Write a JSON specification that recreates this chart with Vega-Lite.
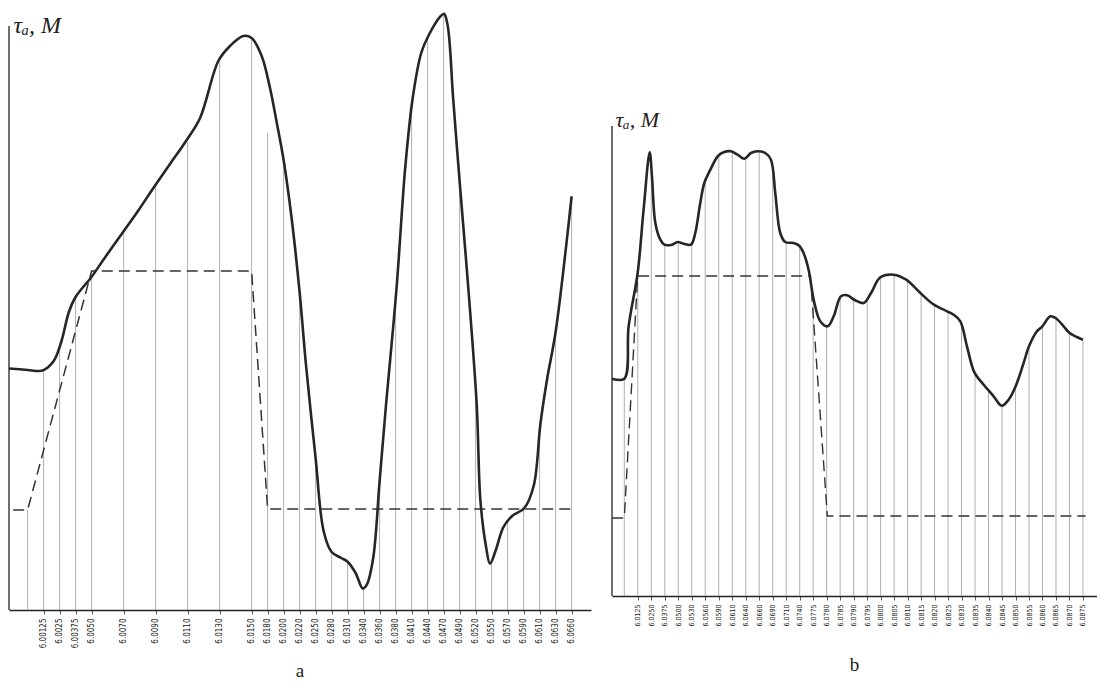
{
  "$schema": "https://vega.github.io/schema/vega-lite/v6.json",
  "padding": {"left": 3, "top": 8, "right": 0, "bottom": 0},
  "background": "#ffffff",
  "spacing": 15,
  "config": {
    "view": {"stroke": null},
    "axis": {"grid": false, "labelOverlap": false, "labelSeparation": 0}
  },
  "resolve": {"scale": {"x": "independent", "y": "independent"}},
  "datasets": {
    "curveA": [
      {"u": -1.16, "v": 241.5}, {"u": 0, "v": 240}, {"u": 0.67, "v": 239}, {"u": 0.96, "v": 239.6},
      {"u": 1.63, "v": 249}, {"u": 2.1, "v": 268}, {"u": 2.58, "v": 298}, {"u": 2.96, "v": 312},
      {"u": 3.42, "v": 322}, {"u": 3.9, "v": 331}, {"u": 4.9, "v": 354}, {"u": 5.88, "v": 376},
      {"u": 6.9, "v": 399}, {"u": 7.86, "v": 422}, {"u": 8.9, "v": 446}, {"u": 9.9, "v": 469},
      {"u": 10.78, "v": 492}, {"u": 11.92, "v": 549}, {"u": 12.65, "v": 564}, {"u": 13.48, "v": 574},
      {"u": 14, "v": 572}, {"u": 14.63, "v": 554}, {"u": 15.15, "v": 522}, {"u": 15.6, "v": 485},
      {"u": 16, "v": 450}, {"u": 16.5, "v": 392}, {"u": 17, "v": 318}, {"u": 17.4, "v": 245},
      {"u": 18, "v": 152}, {"u": 18.5, "v": 79}, {"u": 19, "v": 58}, {"u": 19.6, "v": 52}, {"u": 20, "v": 48.3},
      {"u": 20.5, "v": 37}, {"u": 20.95, "v": 21.5}, {"u": 21.2, "v": 25.3}, {"u": 21.6, "v": 52},
      {"u": 22, "v": 128.6}, {"u": 22.4, "v": 205}, {"u": 23.05, "v": 320}, {"u": 23.6, "v": 442},
      {"u": 24.06, "v": 511}, {"u": 24.6, "v": 557}, {"u": 25.06, "v": 574.5}, {"u": 25.8, "v": 593.6},
      {"u": 26.03, "v": 596.3}, {"u": 26.26, "v": 584}, {"u": 26.6, "v": 511}, {"u": 27.03, "v": 423},
      {"u": 27.46, "v": 339}, {"u": 28.07, "v": 205}, {"u": 28.3, "v": 109.5}, {"u": 28.65, "v": 63.6},
      {"u": 28.9, "v": 46.4}, {"u": 29.26, "v": 59.7}, {"u": 29.73, "v": 82.7}, {"u": 30.3, "v": 94.2},
      {"u": 31.04, "v": 101.8}, {"u": 31.64, "v": 124.8}, {"u": 32.05, "v": 186}, {"u": 32.48, "v": 232},
      {"u": 33.0, "v": 278}, {"u": 34.0, "v": 413.7}
    ],
    "ordA": [
      {"u": 0, "v": 100}, {"u": 1, "v": 240}, {"u": 2, "v": 264}, {"u": 3, "v": 313}, {"u": 4, "v": 333},
      {"u": 6, "v": 378}, {"u": 8, "v": 424}, {"u": 10, "v": 468}, {"u": 12, "v": 548}, {"u": 14, "v": 572},
      {"u": 15, "v": 477}, {"u": 16, "v": 450}, {"u": 17, "v": 316}, {"u": 18, "v": 152}, {"u": 19, "v": 56},
      {"u": 20, "v": 48}, {"u": 21, "v": 22}, {"u": 22, "v": 129}, {"u": 23, "v": 316}, {"u": 24, "v": 505},
      {"u": 25, "v": 572}, {"u": 26, "v": 596}, {"u": 27, "v": 430}, {"u": 28, "v": 225}, {"u": 29, "v": 50},
      {"u": 30, "v": 88}, {"u": 31, "v": 101}, {"u": 32, "v": 182}, {"u": 33, "v": 278}, {"u": 34, "v": 414}
    ],
    "dashA": [
      {"u": -0.9, "v": 100}, {"u": 0, "v": 100}, {"u": 4, "v": 339}, {"u": 14, "v": 339},
      {"u": 15, "v": 101}, {"u": 34, "v": 101}
    ],
    "curveB": [
      {"u": -0.91, "v": 217.3}, {"u": 0, "v": 217.3}, {"u": 0.32, "v": 269.7}, {"u": 0.99, "v": 323},
      {"u": 1.43, "v": 386.3}, {"u": 1.88, "v": 443.7}, {"u": 2.05, "v": 419.7}, {"u": 2.3, "v": 373},
      {"u": 2.67, "v": 356.3}, {"u": 2.97, "v": 351.3}, {"u": 3.53, "v": 351.3}, {"u": 3.95, "v": 354},
      {"u": 4.4, "v": 352.3}, {"u": 4.94, "v": 351.3}, {"u": 5.26, "v": 363}, {"u": 5.63, "v": 393},
      {"u": 5.93, "v": 413}, {"u": 6.38, "v": 426.3}, {"u": 6.92, "v": 439.7}, {"u": 7.36, "v": 443.7},
      {"u": 7.91, "v": 444.7}, {"u": 8.4, "v": 441.3}, {"u": 8.9, "v": 437.3}, {"u": 9.39, "v": 443},
      {"u": 9.88, "v": 444.7}, {"u": 10.45, "v": 443}, {"u": 10.87, "v": 436.3}, {"u": 11.19, "v": 403},
      {"u": 11.56, "v": 363}, {"u": 11.93, "v": 354}, {"u": 12.55, "v": 353}, {"u": 12.97, "v": 350.3},
      {"u": 13.29, "v": 343}, {"u": 13.66, "v": 326.3}, {"u": 14.04, "v": 296.3}, {"u": 14.53, "v": 274.7},
      {"u": 15.07, "v": 269.7}, {"u": 15.52, "v": 279.7}, {"u": 16.06, "v": 299.7}, {"u": 16.51, "v": 300.7},
      {"u": 17.05, "v": 296.3}, {"u": 17.74, "v": 293}, {"u": 18.29, "v": 303}, {"u": 18.98, "v": 318.7},
      {"u": 19.97, "v": 321.3}, {"u": 20.9, "v": 316.3}, {"u": 21.89, "v": 303.7}, {"u": 22.88, "v": 292},
      {"u": 23.92, "v": 284.7}, {"u": 24.41, "v": 281.3}, {"u": 24.91, "v": 274.7}, {"u": 25.4, "v": 249.7},
      {"u": 25.95, "v": 223.7}, {"u": 26.64, "v": 211.3}, {"u": 27.38, "v": 199.7}, {"u": 27.97, "v": 190.3},
      {"u": 28.49, "v": 196.3}, {"u": 29.01, "v": 209.7}, {"u": 29.6, "v": 233}, {"u": 30.0, "v": 249.7},
      {"u": 30.59, "v": 264.7}, {"u": 30.99, "v": 269.7}, {"u": 31.58, "v": 279.7}, {"u": 31.97, "v": 278},
      {"u": 32.57, "v": 269.7}, {"u": 33.01, "v": 263}, {"u": 34.0, "v": 256.3}
    ],
    "ordB": [
      {"u": 0, "v": 217}, {"u": 1, "v": 323}, {"u": 2, "v": 425}, {"u": 3, "v": 351}, {"u": 4, "v": 354},
      {"u": 5, "v": 353}, {"u": 6, "v": 416}, {"u": 7, "v": 441}, {"u": 8, "v": 444}, {"u": 9, "v": 439},
      {"u": 10, "v": 444}, {"u": 11, "v": 423}, {"u": 12, "v": 354}, {"u": 13, "v": 350}, {"u": 14, "v": 299},
      {"u": 15, "v": 270}, {"u": 16, "v": 298}, {"u": 17, "v": 297}, {"u": 18, "v": 298}, {"u": 19, "v": 319},
      {"u": 20, "v": 321}, {"u": 21, "v": 315}, {"u": 22, "v": 302}, {"u": 23, "v": 291}, {"u": 24, "v": 284},
      {"u": 25, "v": 270}, {"u": 26, "v": 222}, {"u": 27, "v": 205}, {"u": 28, "v": 190}, {"u": 29, "v": 209},
      {"u": 30, "v": 250}, {"u": 31, "v": 270}, {"u": 32, "v": 278}, {"u": 33, "v": 263}, {"u": 34, "v": 256}
    ],
    "dashB": [
      {"u": -0.9, "v": 78}, {"u": 0, "v": 78}, {"u": 0.99, "v": 320}, {"u": 13.8, "v": 320},
      {"u": 15.05, "v": 80}, {"u": 34.2, "v": 80}
    ]
  },
  "hconcat": [
    {
      "width": 582,
      "height": 599,
      "title": {"text": "a", "orient": "bottom", "font": "Liberation Serif", "fontSize": 19, "fontWeight": "normal", "offset": 14, "color": "#222"},
      "layer": [
        {
          "data": {"name": "ordA"},
          "mark": {"type": "rule", "color": "#9a9a9a", "strokeWidth": 0.8},
          "encoding": {
            "x": {"field": "u", "type": "quantitative",
              "scale": {"domain": [-1.1625, 35.2125], "nice": false, "zero": false},
              "axis": {
                "title": null,
                "values": [1, 2, 3, 4, 6, 8, 10, 12, 14, 15, 16, 17, 18, 19, 20, 21, 22, 23, 24, 25, 26, 27, 28, 29, 30, 31, 32, 33, 34],
                "tickCount": 200,
                "labelExpr": "['', '6.00125', '6.0025', '6.00375', '6.0050', '', '6.0070', '', '6.0090', '', '6.0110', '', '6.0130', '', '6.0150', '6.0180', '6.0200', '6.0220', '6.0250', '6.0280', '6.0310', '6.0340', '6.0360', '6.0380', '6.0410', '6.0440', '6.0470', '6.0490', '6.0520', '6.0550', '6.0570', '6.0590', '6.0610', '6.0630', '6.0660'][datum.value]",
                "labelAngle": 270, "labelFontSize": 8, "labelFont": "DejaVu Sans Condensed, DejaVu Sans",
                "labelColor": "#222", "labelPadding": 4, "labelOverlap": false, "labelSeparation": 0, "labelBound": false, "labelFlush": false,
                "tickSize": 4, "tickColor": "#333", "tickWidth": 0.8,
                "domainColor": "#222", "domainWidth": 1.5, "grid": false
              }
            },
            "y": {"field": "v", "type": "quantitative",
              "scale": {"domain": [0, 599], "nice": false, "zero": false},
              "axis": {
                "title": "τₐ,  M", "titleAngle": 0, "titleX": 4, "titleY": 21, "titleAlign": "left",
                "titleBaseline": "alphabetic", "titleFont": "Liberation Serif", "titleFontStyle": "italic",
                "titleFontWeight": "normal", "titleFontSize": 24, "titleColor": "#222",
                "domain": false, "ticks": false, "labels": false, "grid": false, "minExtent": 0, "maxExtent": 0
              }
            },
            "y2": {"datum": 0}
          }
        },
        {
          "data": {"values": [{"v": 584}]},
          "mark": {"type": "rule", "color": "#333", "strokeWidth": 1.4},
          "encoding": {
            "x": {"datum": -1.1625, "type": "quantitative"},
            "y": {"field": "v", "type": "quantitative"},
            "y2": {"datum": 0}
          }
        },
        {
          "data": {"name": "dashA"},
          "mark": {"type": "line", "color": "#333", "strokeWidth": 1.5, "strokeDash": [11, 6]},
          "encoding": {
            "x": {"field": "u", "type": "quantitative"},
            "y": {"field": "v", "type": "quantitative"}
          }
        },
        {
          "data": {"name": "curveA"},
          "mark": {"type": "line", "color": "#262626", "strokeWidth": 2.6, "interpolate": "catmull-rom"},
          "encoding": {
            "x": {"field": "u", "type": "quantitative"},
            "y": {"field": "v", "type": "quantitative"}
          }
        }
      ]
    },
    {
      "width": 485,
      "height": 585,
      "title": {"text": "b", "orient": "bottom", "font": "Liberation Serif", "fontSize": 19, "fontWeight": "normal", "offset": 30, "color": "#222"},
      "layer": [
        {
          "data": {"name": "ordB"},
          "mark": {"type": "rule", "color": "#9a9a9a", "strokeWidth": 0.8},
          "encoding": {
            "x": {"field": "u", "type": "quantitative",
              "scale": {"domain": [-0.912, 35.04], "nice": false, "zero": false},
              "axis": {
                "title": null,
                "values": [1, 2, 3, 4, 5, 6, 7, 8, 9, 10, 11, 12, 13, 14, 15, 16, 17, 18, 19, 20, 21, 22, 23, 24, 25, 26, 27, 28, 29, 30, 31, 32, 33, 34],
                "tickCount": 200,
                "labelExpr": "['', '6.0125', '6.0250', '6.0375', '6.0500', '6.0530', '6.0560', '6.0590', '6.0610', '6.0640', '6.0660', '6.0690', '6.0710', '6.0740', '6.0775', '6.0780', '6.0785', '6.0790', '6.0795', '6.0800', '6.0805', '6.0810', '6.0815', '6.0820', '6.0825', '6.0830', '6.0835', '6.0840', '6.0845', '6.0850', '6.0855', '6.0860', '6.0865', '6.0870', '6.0875'][datum.value]",
                "labelAngle": 270, "labelFontSize": 7, "labelFont": "DejaVu Sans Condensed, DejaVu Sans",
                "labelColor": "#222", "labelPadding": 4, "labelOverlap": false, "labelSeparation": 0, "labelBound": false, "labelFlush": false,
                "tickSize": 4, "tickColor": "#333", "tickWidth": 0.8,
                "domainColor": "#222", "domainWidth": 1.5, "grid": false
              }
            },
            "y": {"field": "v", "type": "quantitative",
              "scale": {"domain": [0, 585], "nice": false, "zero": false},
              "axis": {
                "title": "τₐ,  M", "titleAngle": 0, "titleX": 3, "titleY": 115, "titleAlign": "left",
                "titleBaseline": "alphabetic", "titleFont": "Liberation Serif", "titleFontStyle": "italic",
                "titleFontWeight": "normal", "titleFontSize": 22, "titleColor": "#222",
                "domain": false, "ticks": false, "labels": false, "grid": false, "minExtent": 0, "maxExtent": 0
              }
            },
            "y2": {"datum": 0}
          }
        },
        {
          "data": {"values": [{"v": 470}]},
          "mark": {"type": "rule", "color": "#333", "strokeWidth": 1.4},
          "encoding": {
            "x": {"datum": -0.912, "type": "quantitative"},
            "y": {"field": "v", "type": "quantitative"},
            "y2": {"datum": 0}
          }
        },
        {
          "data": {"name": "dashB"},
          "mark": {"type": "line", "color": "#333", "strokeWidth": 1.4, "strokeDash": [11, 6]},
          "encoding": {
            "x": {"field": "u", "type": "quantitative"},
            "y": {"field": "v", "type": "quantitative"}
          }
        },
        {
          "data": {"name": "curveB"},
          "mark": {"type": "line", "color": "#262626", "strokeWidth": 2.6, "interpolate": "catmull-rom"},
          "encoding": {
            "x": {"field": "u", "type": "quantitative"},
            "y": {"field": "v", "type": "quantitative"}
          }
        }
      ]
    }
  ]
}
